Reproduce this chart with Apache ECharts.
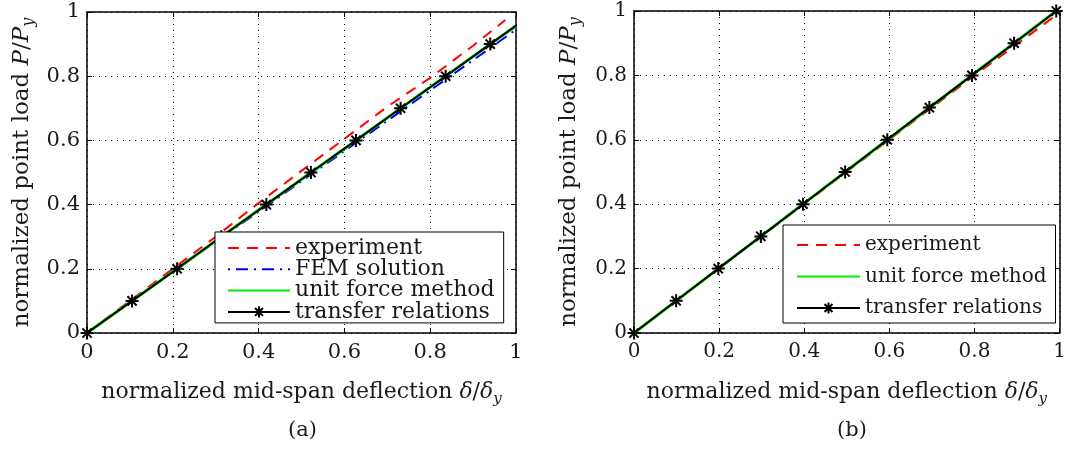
<!DOCTYPE html>
<html>
<head>
<meta charset="utf-8">
<script src="https://cdn.jsdelivr.net/npm/echarts@6/dist/echarts.min.js"></script>
<style>
html,body{margin:0;padding:0;background:#fff;}
#c{width:1069px;height:450px;}
</style>
</head>
<body>
<div id="c"></div>
<script>
// ---- data ----
const tickLabels = ['0', '0.2', '0.4', '0.6', '0.8', '1'];

// panel (a)
const aExpX   = [0, 0.1, 0.2, 0.3, 0.4, 0.5, 0.6, 0.7, 0.8, 0.9, 0.975];
const aExpY   = [0, 0.1, 0.2, 0.3, 0.405, 0.505, 0.605, 0.705, 0.795, 0.895, 0.975];
const aFemX   = [0, 0.1, 0.2, 0.3, 0.4, 0.5, 0.6, 0.7, 0.8, 0.9, 1.0];
const aFemY   = [0, 0.095, 0.19, 0.285, 0.378, 0.473, 0.567, 0.661, 0.756, 0.85, 0.945];
const aUfmX   = [0, 0.2, 0.4, 0.6, 0.8, 1.0];
const aUfmY   = [0, 0.191, 0.383, 0.574, 0.766, 0.957];
const aTrX    = [0, 0.105, 0.21, 0.313, 0.418, 0.522, 0.627, 0.731, 0.836, 0.94, 1.045];
const aTrY    = [0, 0.1, 0.2, 0.3, 0.4, 0.5, 0.6, 0.7, 0.8, 0.9, 1.0];

// panel (b)
const bExpX   = [0, 0.2, 0.4, 0.6, 0.8, 1.0];
const bExpY   = [0, 0.201, 0.401, 0.601, 0.8, 0.995];
const bUfmX   = [0, 0.2, 0.4, 0.6, 0.8, 0.992];
const bUfmY   = [0, 0.2016, 0.4032, 0.6048, 0.8065, 1.0];
const bTrX    = [0, 0.099, 0.198, 0.298, 0.397, 0.496, 0.595, 0.694, 0.794, 0.893, 0.992];
const bTrY    = [0, 0.1, 0.2, 0.3, 0.4, 0.5, 0.6, 0.7, 0.8, 0.9, 1.0];

const names = ['experiment', 'FEM solution', 'unit force method', 'transfer relations'];

// ---- helpers ----
const zip = (xs, ys) => xs.map((x, i) => [x, ys[i]]);
const FONT = "DejaVu Serif";
const STAR = 'path://M5,0L5,10M0,5L10,5M1.46,1.46L8.54,8.54M1.46,8.54L8.54,1.46';
const NOSYM = 'path://M0,0L10,10';
const TXT = '#1a1a1a';

function richName(fs) {
  return {
    n: {fontSize: fs, fontFamily: FONT, color: TXT, lineHeight: 30, verticalAlign: 'middle'},
    i: {fontSize: fs, fontFamily: FONT, fontStyle: 'italic', color: TXT, lineHeight: 30, verticalAlign: 'middle'},
    s: {fontSize: Math.round(fs * 0.68), fontFamily: FONT, fontStyle: 'italic', color: TXT, lineHeight: 30, verticalAlign: 'bottom'}
  };
}
function mainX(grid, fs, nfs) {
  return {
    type: 'value', gridIndex: grid, min: 0, max: 1, interval: 0.2,
    axisLine: {show: true, onZero: false, lineStyle: {color: '#000', width: 1.5}},
    axisTick: {show: true, inside: true, length: 5, lineStyle: {color: '#000'}},
    axisLabel: {color: TXT, fontFamily: FONT, fontSize: fs, margin: 9,
      formatter: v => tickLabels[Math.round(v / 0.2)]},
    splitLine: {show: true, lineStyle: {color: '#000', width: 1, type: [1, 5]}},
    name: '{n|normalized mid-span deflection }{i|δ}{n|/}{i|δ}{s|y}',
    nameLocation: 'middle', nameGap: 44,
    nameTextStyle: {fontFamily: FONT, color: TXT, rich: richName(nfs)}
  };
}
function mainY(grid, fs, nfs) {
  return {
    type: 'value', gridIndex: grid, min: 0, max: 1, interval: 0.2,
    axisLine: {show: true, onZero: false, lineStyle: {color: '#000', width: 1.5}},
    axisTick: {show: true, inside: true, length: 5, lineStyle: {color: '#000'}},
    axisLabel: {color: TXT, fontFamily: FONT, fontSize: fs, margin: 7,
      formatter: v => tickLabels[Math.round(v / 0.2)]},
    splitLine: {show: true, lineStyle: {color: '#000', width: 1, type: [1, 5]}},
    name: '{n|normalized point load }{i|P}{n|/}{i|P}{s|y}',
    nameLocation: 'middle', nameGap: 50,
    nameTextStyle: {fontFamily: FONT, color: TXT, rich: richName(nfs)}
  };
}
function boxX(grid) {
  return {type: 'value', gridIndex: grid, min: 0, max: 1, interval: 0.2, position: 'top',
    axisLine: {show: true, onZero: false, lineStyle: {color: '#000', width: 1.5}},
    axisTick: {show: true, inside: true, length: 5, lineStyle: {color: '#000'}},
    axisLabel: {show: false}, splitLine: {show: false}};
}
function boxY(grid) {
  return {type: 'value', gridIndex: grid, min: 0, max: 1, interval: 0.2, position: 'right',
    axisLine: {show: true, onZero: false, lineStyle: {color: '#000', width: 1.5}},
    axisTick: {show: true, inside: true, length: 5, lineStyle: {color: '#000'}},
    axisLabel: {show: false}, splitLine: {show: false}};
}

function expSeries(ax, data) {
  return {name: names[0], type: 'line', xAxisIndex: ax, yAxisIndex: ax, data: data,
    symbol: NOSYM, showSymbol: false, clip: true, animation: false,
    lineStyle: {color: '#ff0000', width: 2, type: [11, 8]},
    itemStyle: {color: '#ff0000', borderWidth: 0}};
}
function femSeries(ax, data) {
  return {name: names[1], type: 'line', xAxisIndex: ax, yAxisIndex: ax, data: data,
    symbol: NOSYM, showSymbol: false, clip: true, animation: false,
    lineStyle: {color: '#0000ff', width: 2, type: [2, 6, 12, 6]},
    itemStyle: {color: '#0000ff', borderWidth: 0}};
}
function ufmSeries(ax, data) {
  return {name: names[2], type: 'line', xAxisIndex: ax, yAxisIndex: ax, data: data,
    symbol: NOSYM, showSymbol: false, clip: true, animation: false,
    lineStyle: {color: '#00ee00', width: 3},
    itemStyle: {color: '#00ee00', borderWidth: 0}};
}
function trSeries(ax, data) {
  return {name: names[3], type: 'line', xAxisIndex: ax, yAxisIndex: ax, data: data,
    symbol: STAR, symbolSize: 13, showSymbol: true, clip: true, animation: false,
    lineStyle: {color: '#000', width: 2},
    itemStyle: {color: '#000', borderColor: '#000', borderWidth: 2}};
}

const chart = echarts.init(document.getElementById('c'), null, {renderer: 'canvas'});
chart.setOption({
  backgroundColor: '#fff',
  animation: false,
  grid: [
    {left: 87, top: 12, width: 429, height: 321, containLabel: false},
    {left: 634, top: 11, width: 432, height: 322, containLabel: false}
  ],
  xAxis: [mainX(0, 21, 22), mainX(1, 20, 22), boxX(0), boxX(1)],
  yAxis: [mainY(0, 21, 23), mainY(1, 20, 23), boxY(0), boxY(1)],
  legend: [
    {data: names, orient: 'vertical', left: 215, top: 232,
     itemWidth: 62, itemHeight: 14, itemGap: -0.7,
     padding: [5, 9, 0, 12],
     backgroundColor: '#fff', borderColor: '#000', borderWidth: 1, borderRadius: 0,
     selectedMode: false,
     textStyle: {fontFamily: FONT, fontSize: 22, color: TXT}},
    {data: [names[0], names[2], names[3]], orient: 'vertical', left: 783, top: 225,
     itemWidth: 63, itemHeight: 14, itemGap: 11.5,
     padding: [10, 9, 5, 13],
     backgroundColor: '#fff', borderColor: '#000', borderWidth: 1, borderRadius: 0,
     selectedMode: false,
     textStyle: {fontFamily: FONT, fontSize: 20, color: TXT}}
  ],
  graphic: [
    {type: 'text', left: 288, top: 420, style: {text: '(a)', font: "21px 'DejaVu Serif'", fill: TXT}},
    {type: 'text', left: 837, top: 420, style: {text: '(b)', font: "21px 'DejaVu Serif'", fill: TXT}}
  ],
  series: [
    expSeries(0, zip(aExpX, aExpY)),
    femSeries(0, zip(aFemX, aFemY)),
    ufmSeries(0, zip(aUfmX, aUfmY)),
    trSeries(0, zip(aTrX, aTrY)),
    expSeries(1, zip(bExpX, bExpY)),
    ufmSeries(1, zip(bUfmX, bUfmY)),
    trSeries(1, zip(bTrX, bTrY))
  ]
});
</script>
</body>
</html>
